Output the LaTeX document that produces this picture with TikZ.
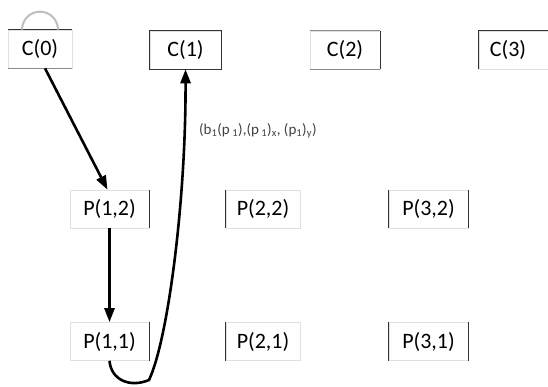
\documentclass[tikz,border=0pt]{standalone}
\usepackage{fontspec}
\setmainfont{Carlito}
\usetikzlibrary{arrows.meta}

\tikzset{
  cell/.style={draw=black!12, line width=0.6pt, minimum height=38pt, inner sep=0pt,
               font=\fontsize{22}{24}\selectfont},
  side/.style={draw=black!80, line width=1.2pt},
  faint/.style={draw=black!45, line width=0.9pt},
  flow/.style={-{Triangle[length=14pt,width=10pt]}, line width=2.6pt}
}
\newcommand{\sub}[1]{\textsubscript{#1}}

\begin{document}
\begin{tikzpicture}[x=1pt,y=-1pt]
                \useasboundingbox (0,0) rectangle (548,387);
                % row of C nodes
                \node[cell, minimum width=64pt] (c0) at (40,49) {C(0)};
                \node[cell, minimum width=71pt] (c1) at (185.5,50) {C(1)};
                \node[cell, minimum width=70pt] (c2) at (345,50) {C(2)};
                \node[cell, minimum width=70pt] (c3) at (514,50) {\hspace*{-12pt}C(3)};
                % P nodes
                \node[cell, minimum width=79pt] (p12) at (109.5,209) {P(1,2)};
                \node[cell, minimum width=74pt] (p22) at (263,209) {P(2,2)};
                \node[cell, minimum width=79pt] (p32) at (428.5,209) {P(3,2)};
                \node[cell, minimum width=79pt] (p11) at (109.5,341.5) {P(1,1)};
                \node[cell, minimum width=74pt] (p21) at (263,341.5) {P(2,1)};
                \node[cell, minimum width=79pt] (p31) at (428.5,341.5) {P(3,1)};
                % darker edges
                \draw[side] (c0.north west) -- (c0.north east);
                \draw[faint] (c0.south west) -- (c0.south east);
                \draw[side] (c1.south west) rectangle (c1.north east);
                \draw[faint] (c2.north west) -- (c2.north east);
                \draw[faint] (c2.south west) -- (c2.south east);
                \draw[side] (c2.north east) -- (c2.south east);
                \draw[side] (c3.south west) -- (c3.north west) -- (c3.north east);
                \draw[side] (p12.north east) -- (p12.south east);
                \draw[side] (p22.north west) -- (p22.south west);
                \draw[side] (p32.north west) -- (p32.south west);
                \draw[side] (p32.north east) -- (p32.south east);
                \draw[side] (p11.north east) -- (p11.south east);
                \draw[side] (p21.north west) -- (p21.south west);
                \draw[side] (p31.north west) -- (p31.south west);
                \draw[side] (p31.north east) -- (p31.south east);
                % self loop hint on C(0)
                \draw[black!25, line width=2pt] ([xshift=-18pt]c0.north) arc[start angle=180, end angle=0, radius=18pt];
                % arrows
                \draw[flow] ([xshift=5pt]c0.south) -- ([xshift=-2pt]p12.north);
                \draw[flow] (p12.south) -- (p11.north);
                \draw[flow] (p11.south) .. controls (111,380) and (130,388) .. (149,380)
                                  .. controls (168,340) and (186,200) .. (c1.south);
                \node[font=\fontsize{15}{17}\selectfont, anchor=west, inner sep=0pt, black!75] (lbl) at (199,131)
                     {(b\sub{1}(p\,\sub{1}),(p\,\sub{1})\sub{x}, (p\sub{1})\sub{y})};
\end{tikzpicture}
\end{document}
